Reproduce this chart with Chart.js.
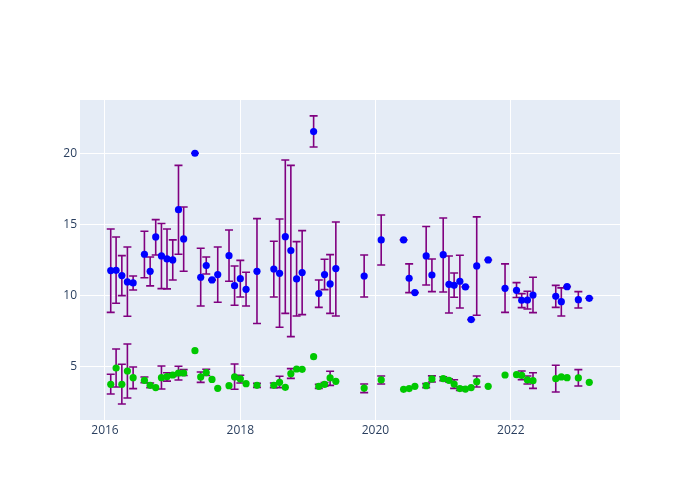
<!DOCTYPE html>
<html>
<head>
<meta charset="utf-8">
<script src="https://cdn.jsdelivr.net/npm/chart.js@4/dist/chart.umd.min.js"></script>
<style>
  html, body { margin: 0; padding: 0; background: #ffffff; }
  #wrap { width: 700px; height: 500px; position: relative; }
</style>
</head>
<body>
<div id="wrap"><canvas id="c" width="700" height="500"></canvas></div>
<script>
const dates = ['2016-02-01','2016-03-01','2016-04-01','2016-05-01','2016-06-01','2016-08-01','2016-09-01','2016-10-01','2016-11-01','2016-12-01',
  '2017-01-01','2017-02-01','2017-03-01','2017-05-01','2017-06-01','2017-07-01','2017-08-01','2017-09-01','2017-11-01','2017-12-01',
  '2018-01-01','2018-02-01','2018-04-01','2018-07-01','2018-08-01','2018-09-01','2018-10-01','2018-11-01','2018-12-01',
  '2019-02-01','2019-03-01','2019-04-01','2019-05-01','2019-06-01','2019-11-01',
  '2020-02-01','2020-06-01','2020-07-01','2020-08-01','2020-10-01','2020-11-01',
  '2021-01-01','2021-02-01','2021-03-01','2021-04-01','2021-05-01','2021-06-01','2021-07-01','2021-09-01','2021-12-01',
  '2022-02-01','2022-03-01','2022-04-01','2022-05-01','2022-09-01','2022-10-01','2022-11-01',
  '2023-01-01','2023-03-01'];

const blueValues = [11.74,11.76,11.39,10.94,10.87,12.89,11.69,14.11,12.77,12.56,
  12.49,16.03,13.97,20.0,11.27,12.09,11.08,11.46,12.79,10.68,
  11.17,10.42,11.69,11.85,11.55,14.13,13.15,11.15,11.60,
  21.53,10.12,11.46,10.80,11.88,11.36,
  13.90,13.90,11.20,10.19,12.77,11.43,
  12.86,10.77,10.70,10.99,10.59,8.29,12.07,12.49,10.49,
  10.35,9.65,9.67,10.02,9.93,9.55,10.61,
  9.69,9.79];
const blueLow = [8.80,9.44,9.98,8.52,10.37,11.24,10.66,12.84,10.47,10.45,
  11.08,12.89,11.69,20.0,9.25,11.50,11.06,9.51,10.99,9.30,
  9.88,9.25,8.01,9.88,7.75,8.73,7.09,8.54,8.64,
  20.44,9.15,10.40,8.73,8.54,9.88,
  12.13,13.90,10.19,10.19,10.73,10.26,
  10.23,8.75,9.86,9.11,10.59,8.29,8.59,12.49,8.80,
  9.84,9.13,9.04,8.78,9.15,8.54,10.61,
  9.11,9.79];
const blueHigh = [14.67,14.10,12.79,13.40,11.36,14.51,12.70,15.33,15.05,14.67,
  13.90,19.15,16.22,20.0,13.31,12.70,11.10,13.40,14.60,12.06,
  12.46,11.62,15.40,13.80,15.37,19.53,19.15,13.78,14.55,
  22.63,11.08,12.54,12.86,15.16,12.84,
  15.65,13.90,12.21,10.19,14.84,12.56,
  15.44,12.77,11.57,12.82,10.59,8.29,15.52,12.49,12.21,
  10.89,10.12,10.28,11.27,10.70,10.52,10.61,
  10.26,9.79];

const greenValues = [3.73,4.88,3.73,4.67,4.20,4.01,3.66,3.50,4.20,4.27,
  4.39,4.53,4.53,6.10,4.25,4.56,4.08,3.45,3.64,4.25,
  4.11,3.78,3.66,3.66,3.87,3.52,4.48,4.81,4.79,
  5.68,3.59,3.73,4.18,3.94,3.47,
  4.04,3.38,3.43,3.59,3.64,4.11,
  4.13,4.01,3.75,3.43,3.40,3.50,3.92,3.59,4.39,
  4.41,4.37,4.04,3.99,4.13,4.25,4.20,
  4.18,3.87];
const greenLow = [3.05,3.54,2.35,2.77,3.43,3.85,3.50,null,3.40,3.96,
  4.28,4.04,4.35,null,3.87,4.35,null,null,null,3.38,
  3.83,null,3.52,3.50,3.50,null,4.15,null,null,
  null,3.45,3.60,3.66,null,3.15,
  3.75,null,null,null,3.50,3.90,
  3.99,3.90,3.45,3.30,null,null,3.54,null,null,
  null,4.06,3.75,3.45,3.19,null,null,
  3.61,null];
const greenHigh = [4.44,6.22,5.14,6.57,4.95,4.25,3.82,null,5.02,4.55,
  4.52,5.00,4.77,null,4.60,4.79,null,null,null,5.16,
  4.37,null,3.80,3.82,4.30,null,4.84,null,null,
  null,3.73,3.86,4.65,null,3.75,
  4.32,null,null,null,3.78,4.33,
  4.27,4.12,4.05,3.56,null,null,4.32,null,null,
  null,4.67,4.32,4.55,5.07,null,null,
  4.77,null];

const yTicks = [5, 10, 15, 20];
const xTickYears = [2016, 2018, 2020, 2022];

function toMs(s) { const p = s.split('-').map(Number); return Date.UTC(p[0], p[1] - 1, p[2]); }
const xs = dates.map(toMs);

const errorBarPlugin = {
  id: 'errorBars',
  beforeDatasetsDraw(chart) {
    const ctx = chart.ctx;
    const xScale = chart.scales.x, yScale = chart.scales.y;
    ctx.save();
    ctx.beginPath();
    ctx.rect(chart.chartArea.left, chart.chartArea.top, chart.chartArea.width, chart.chartArea.height);
    ctx.clip();
    chart.data.datasets.forEach(ds => {
      if (!ds.errLow) return;
      ctx.strokeStyle = '#800080';
      ctx.lineWidth = 1.6;
      ds.data.forEach((pt, i) => {
        const lo = ds.errLow[i], hi = ds.errHigh[i];
        if (lo == null || hi == null) return;
        const px = xScale.getPixelForValue(pt.x);
        const pl = yScale.getPixelForValue(lo);
        const ph = yScale.getPixelForValue(hi);
        ctx.beginPath();
        ctx.moveTo(px, pl); ctx.lineTo(px, ph);
        ctx.moveTo(px - 4, pl); ctx.lineTo(px + 4, pl);
        ctx.moveTo(px - 4, ph); ctx.lineTo(px + 4, ph);
        ctx.stroke();
      });
    });
    ctx.restore();
  }
};

const bgPlugin = {
  id: 'plotBg',
  beforeDraw(chart) {
    const a = chart.chartArea, ctx = chart.ctx;
    ctx.save();
    ctx.fillStyle = '#ffffff';
    ctx.fillRect(0, 0, chart.width, chart.height);
    ctx.fillStyle = '#E5ECF6';
    ctx.fillRect(a.left, a.top, a.right - a.left, a.bottom - a.top);
    ctx.restore();
  }
};

const tickFont = { family: '"Open Sans", Verdana, Arial, sans-serif', size: 12 };

new Chart(document.getElementById('c'), {
  type: 'scatter',
  data: {
    datasets: [
      {
        label: 'blue',
        data: xs.map((x, i) => ({ x: x, y: blueValues[i] })),
        errLow: blueLow, errHigh: blueHigh,
        backgroundColor: '#0000ff', borderColor: '#0000ff', borderWidth: 0,
        pointRadius: 3.6, pointHoverRadius: 3.6
      },
      {
        label: 'green',
        data: xs.map((x, i) => ({ x: x, y: greenValues[i] })),
        errLow: greenLow, errHigh: greenHigh,
        backgroundColor: '#00c800', borderColor: '#00c800', borderWidth: 0,
        pointRadius: 3.6, pointHoverRadius: 3.6
      }
    ]
  },
  options: {
    responsive: false,
    animation: false,
    devicePixelRatio: 1,
    layout: { padding: { left: 0, right: 80, top: 100, bottom: 0 } },
    plugins: { legend: { display: false }, tooltip: { enabled: false } },
    scales: {
      x: {
        type: 'linear',
        min: Date.UTC(2015, 7, 19),
        max: Date.UTC(2023, 7, 14),
        afterBuildTicks(scale) { scale.ticks = xTickYears.map(y => ({ value: Date.UTC(y, 0, 1) })); },
        afterFit(scale) { scale.height = 80; },
        grid: { color: '#ffffff', lineWidth: 1, drawTicks: false },
        border: { display: false },
        ticks: {
          color: '#2a3f5f', font: tickFont, padding: 3, maxRotation: 0, autoSkip: false,
          callback: (v) => String(new Date(v).getUTCFullYear())
        }
      },
      y: {
        type: 'linear',
        min: 1.22,
        max: 23.75,
        afterBuildTicks(scale) { scale.ticks = yTicks.map(v => ({ value: v })); },
        afterFit(scale) { scale.width = 80; },
        grid: { color: '#ffffff', lineWidth: 1, drawTicks: false },
        border: { display: false },
        ticks: { color: '#2a3f5f', font: tickFont, padding: 3, callback: (v) => String(v) }
      }
    }
  },
  plugins: [bgPlugin, errorBarPlugin]
});
</script>
</body>
</html>
